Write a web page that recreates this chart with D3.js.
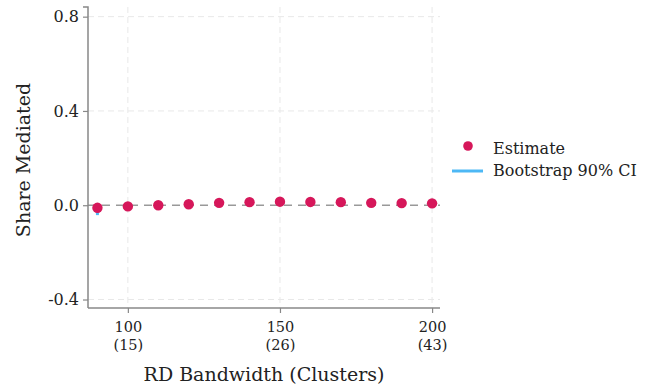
<!DOCTYPE html>
<html><head><meta charset="utf-8">
<script src="https://cdn.jsdelivr.net/npm/d3@7"></script>
<style>body{margin:0;background:#fff}svg{display:block}text{font-family:"DejaVu Serif",serif;fill:#222}</style>
</head><body>
<script>
const bandwidths = [90,100,110,120,130,140,150,160,170,180,190,200];
const estimates = [-0.011,-0.005,0.0,0.004,0.010,0.013,0.015,0.014,0.013,0.010,0.009,0.008];
const ciLower = [-0.042,-0.012,-0.006,-0.002,0.004,0.007,0.009,0.008,0.007,0.004,0.003,0.002];
const ciUpper = [-0.004,0.002,0.006,0.010,0.016,0.019,0.021,0.020,0.019,0.016,0.015,0.014];
const xTicks = [100,150,200];
const xTickClusters = ["(15)","(26)","(43)"];
const yTicks = [-0.4,0.0,0.4,0.8];

const W=649,H=388;
const FONT="DejaVu Serif, serif";
const svg=d3.select("body").append("svg").attr("width",W).attr("height",H);
const L=88,R=440,T=7,B=308;
const x=d3.scaleLinear().domain([86.9,202.6]).range([L,R]);
const y=d3.scaleLinear().domain([-0.436,0.841]).range([B,T]);

// grid
svg.append("g").selectAll("line").data(xTicks).join("line")
 .attr("x1",d=>x(d)).attr("x2",d=>x(d)).attr("y1",T).attr("y2",B)
 .attr("stroke","#e8e8e8").attr("stroke-dasharray","6,4");
svg.append("g").selectAll("line").data(yTicks.filter(d=>d!==0)).join("line")
 .attr("x1",L).attr("x2",R).attr("y1",d=>y(d)).attr("y2",d=>y(d))
 .attr("stroke","#e8e8e8").attr("stroke-dasharray","6,4");
// zero line
svg.append("line").attr("x1",L).attr("x2",R).attr("y1",y(0)).attr("y2",y(0))
 .attr("stroke","#999").attr("stroke-width",1.5).attr("stroke-dasharray","8,6");

// axes
const yAxis=d3.axisLeft(y).tickValues(yTicks).tickSize(5).tickPadding(4);
const gy=svg.append("g").attr("transform",`translate(${L},0)`).call(yAxis);
gy.select(".domain").attr("stroke","#888").attr("stroke-width",1.5).attr("d",`M-5,${T}H0V${B}`);
gy.selectAll(".tick line").attr("stroke","#888").attr("stroke-width",1.2);
gy.selectAll(".tick text").attr("font-size",16).attr("fill","#222").attr("font-family",FONT)
 .text(d=>d3.format(".1f")(d).replace("−","-"));

const xAxis=d3.axisBottom(x).tickValues(xTicks).tickSize(5).tickFormat("");
const gx=svg.append("g").attr("transform",`translate(0,${B})`).call(xAxis);
gx.select(".domain").attr("stroke","#888").attr("stroke-width",1.5).attr("d",`M${L},0H${R}`);
gx.selectAll(".tick line").attr("stroke","#888").attr("stroke-width",1.2);
gx.selectAll(".tick").append("text").attr("y",24).attr("text-anchor","middle").attr("font-size",14.5).attr("font-family",FONT).attr("fill","#222").text(d=>d);
gx.selectAll(".tick").append("text").attr("y",41.5).attr("text-anchor","middle").attr("font-size",14.5).attr("font-family",FONT).attr("fill","#222").text((d,i)=>xTickClusters[i]);

// titles
svg.append("text").attr("x",264).attr("y",381).attr("text-anchor","middle").attr("font-size",19).text("RD Bandwidth (Clusters)");
svg.append("text").attr("transform",`translate(30,${160}) rotate(-90)`).attr("text-anchor","middle").attr("font-size",19).text("Share Mediated");

// CI
svg.append("g").selectAll("line").data(bandwidths).join("line")
 .attr("x1",d=>x(d)).attr("x2",d=>x(d))
 .attr("y1",(d,i)=>y(ciLower[i])).attr("y2",(d,i)=>y(ciUpper[i]))
 .attr("stroke","#4db8f5").attr("stroke-width",3);
// points
svg.append("g").selectAll("circle").data(bandwidths).join("circle")
 .attr("cx",d=>x(d)).attr("cy",(d,i)=>y(estimates[i])).attr("r",5.2).attr("fill","#d6175a");

// legend
const lg=svg.append("g");
lg.append("circle").attr("cx",468).attr("cy",146).attr("r",4.8).attr("fill","#d6175a");
lg.append("text").attr("x",493).attr("y",154).attr("font-size",16).text("Estimate");
lg.append("line").attr("x1",452).attr("x2",483).attr("y1",171).attr("y2",171).attr("stroke","#4db8f5").attr("stroke-width",3);
lg.append("text").attr("x",493).attr("y",176).attr("font-size",16).text("Bootstrap 90% CI");
</script>
</body></html>
